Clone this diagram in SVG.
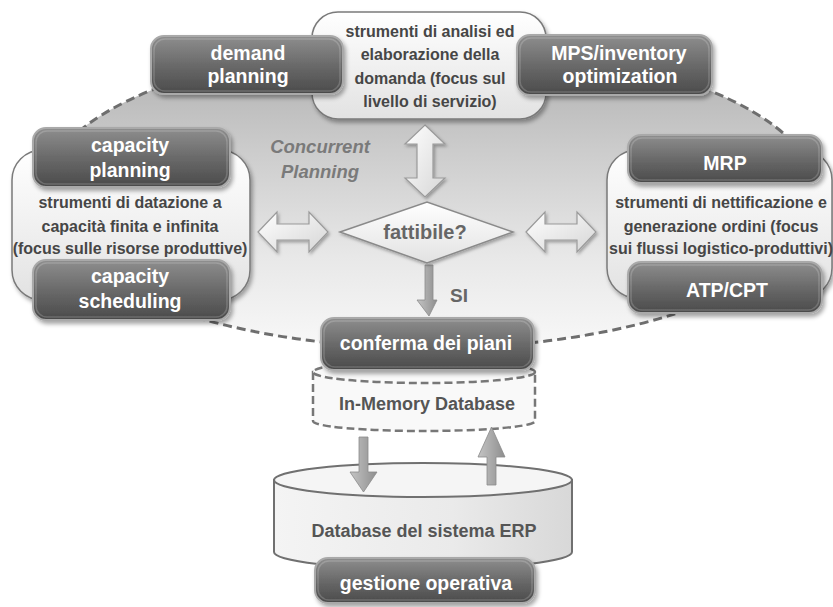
<svg xmlns="http://www.w3.org/2000/svg" xmlns:xlink="http://www.w3.org/1999/xlink" width="833" height="607" viewBox="0 0 833 607">
  <defs>
    <style>
      text { font-family: "Liberation Sans", Arial, sans-serif; font-weight: bold; text-anchor: middle; }
      .wt { fill: #ffffff; font-size: 19.5px; }
      .bt { fill: #464646; font-size: 16px; }
      .gt { fill: #666666; }
      .dk { fill: url(#gDark); stroke: #a9a9a9; stroke-width: 2; filter: url(#sh); }
      .dkin { fill: none; stroke: #ffffff; stroke-opacity: 0.18; stroke-width: 1.5; }
      .lt { fill: url(#gLight); stroke: #7a7a7a; stroke-width: 1.5; filter: url(#sh); }
      .arr { fill: url(#gArrow); stroke: #9a9a9a; stroke-width: 1.2; filter: url(#shs); }
      .flow { fill: url(#gFlow); stroke: #8a8a8a; stroke-width: 0.8; }
    </style>
    <linearGradient id="gArea" gradientUnits="userSpaceOnUse" x1="0" y1="44" x2="0" y2="348">
      <stop offset="0" stop-color="#adadad"/>
      <stop offset="0.35" stop-color="#cccccc"/>
      <stop offset="0.7" stop-color="#e8e8e8"/>
      <stop offset="1" stop-color="#f8f8f8"/>
    </linearGradient>
    <linearGradient id="gDark" x1="0" y1="0" x2="0" y2="1">
      <stop offset="0" stop-color="#8e8e8e"/>
      <stop offset="0.5" stop-color="#6a6a6a"/>
      <stop offset="1" stop-color="#4a4a4a"/>
    </linearGradient>
    <linearGradient id="gLight" x1="0" y1="0" x2="0" y2="1">
      <stop offset="0" stop-color="#ffffff"/>
      <stop offset="1" stop-color="#e2e2e2"/>
    </linearGradient>
    <linearGradient id="gArrow" x1="0" y1="0" x2="1" y2="1">
      <stop offset="0" stop-color="#ffffff"/>
      <stop offset="1" stop-color="#d6d6d6"/>
    </linearGradient>
    <linearGradient id="gFlow" x1="0" y1="0" x2="1" y2="0">
      <stop offset="0" stop-color="#c4c4c4"/>
      <stop offset="1" stop-color="#8e8e8e"/>
    </linearGradient>
    <linearGradient id="gCyl" x1="0" y1="0" x2="1" y2="0">
      <stop offset="0" stop-color="#f4f4f4"/>
      <stop offset="0.6" stop-color="#eaeaea"/>
      <stop offset="1" stop-color="#d8d8d8"/>
    </linearGradient>
    <filter id="sh" x="-10%" y="-20%" width="125%" height="150%">
      <feDropShadow dx="2" dy="3" stdDeviation="2" flood-color="#000000" flood-opacity="0.35"/>
    </filter>
    <filter id="shs" x="-20%" y="-20%" width="150%" height="150%">
      <feDropShadow dx="1.5" dy="2" stdDeviation="1.5" flood-color="#000000" flood-opacity="0.3"/>
    </filter>
    <!-- double arrows centred on the origin -->
    <path id="dblH" d="M-35,0 L-16,-20 L-16,-8 L16,-8 L16,-20 L35,0 L16,20 L16,8 L-16,8 L-16,20 Z"/>
    <path id="dblV" d="M0,-36 L20,-17 L8,-17 L8,17 L20,17 L0,36 L-20,17 L-8,17 L-8,-17 L-20,-17 Z"/>
  </defs>

  <rect width="833" height="607" fill="#ffffff"/>

  <!-- concurrent planning area -->
  <g id="planning-area">
    <ellipse cx="430" cy="196" rx="388" ry="152" fill="url(#gArea)" stroke="#6e6e6e" stroke-width="3" stroke-dasharray="9 5"/>
    <text x="320" y="153" font-style="italic" font-size="18.5" fill="#7a7a7a">Concurrent</text>
    <text x="320" y="178" font-style="italic" font-size="18.5" fill="#7a7a7a">Planning</text>
  </g>

  <!-- in-memory database (behind the confirmation box) -->
  <g id="in-memory-db">
    <path d="M313,372 L313,421 A111,10 0 0 0 535,421 L535,372 Z" fill="#f9f9f9" stroke="#777777" stroke-width="2.5" stroke-dasharray="8 4"/>
    <ellipse cx="424" cy="372" rx="111" ry="11" fill="#f9f9f9" stroke="#777777" stroke-width="2.5" stroke-dasharray="8 4"/>
    <text x="427" y="410" font-size="18" fill="#555555">In-Memory Database</text>
  </g>

  <!-- ERP database -->
  <g id="erp-db">
    <path d="M274,480 L274,552 A149,17 0 0 0 572,552 L572,480 Z" fill="url(#gCyl)" stroke="#707070" stroke-width="2"/>
    <ellipse cx="423" cy="480" rx="149" ry="17" fill="#f5f5f5" stroke="#707070" stroke-width="2"/>
    <text x="424" y="537" font-size="18" fill="#555555">Database del sistema ERP</text>
  </g>

  <!-- connectors -->
  <g id="connectors">
    <use href="#dblV" x="425" y="161" class="arr"/>
    <use href="#dblH" x="293" y="232" class="arr"/>
    <use href="#dblH" x="561" y="232" class="arr"/>
    <path class="flow" d="M425,265 L433,265 L433,300 L437,300 L429,316 L417,300 L425,300 Z"/>
    <text x="459" y="302" font-size="19" fill="#666666">SI</text>
    <path class="flow" d="M359,437 L368,437 L368,472 L377,472 L363.5,492 L350,472 L359,472 Z"/>
    <path class="flow" d="M487,485 L496,485 L496,457 L505,457 L491.5,427 L478,457 L487,457 Z"/>
  </g>

  <!-- capacity group -->
  <g id="capacity-tools">
    <rect x="12" y="150" width="238" height="150" rx="30" class="lt"/>
    <text x="130" y="208" class="bt">strumenti di datazione a</text>
    <text x="130" y="232" class="bt">capacità finita e infinita</text>
    <text x="130" y="254" class="bt">(focus sulle risorse produttive)</text>
  </g>
  <g id="capacity-planning">
    <rect x="33" y="128" width="197" height="59" rx="13" class="dk"/>
    <rect x="36" y="131" width="191" height="53" rx="11" class="dkin"/>
    <text x="130" y="152" class="wt">capacity</text>
    <text x="130" y="177" class="wt">planning</text>
  </g>
  <g id="capacity-scheduling">
    <rect x="33" y="260" width="197" height="60" rx="13" class="dk"/>
    <rect x="36" y="263" width="191" height="54" rx="11" class="dkin"/>
    <text x="130" y="283" class="wt">capacity</text>
    <text x="130" y="308" class="wt">scheduling</text>
  </g>

  <!-- MRP group -->
  <g id="mrp-tools">
    <rect x="607" y="150" width="225" height="148" rx="30" class="lt"/>
    <text x="721" y="208" class="bt">strumenti di nettificazione e</text>
    <text x="721" y="232" class="bt">generazione ordini (focus</text>
    <text x="721" y="254" class="bt">sui flussi logistico-produttivi)</text>
  </g>
  <g id="mrp">
    <rect x="628" y="135" width="194" height="48" rx="13" class="dk"/>
    <rect x="631" y="138" width="188" height="42" rx="11" class="dkin"/>
    <text x="725" y="170" class="wt">MRP</text>
  </g>
  <g id="atp-ctp">
    <rect x="628" y="262" width="194" height="51" rx="13" class="dk"/>
    <rect x="631" y="265" width="188" height="45" rx="11" class="dkin"/>
    <text x="727" y="297" class="wt">ATP/CPT</text>
  </g>

  <!-- demand analysis tools -->
  <g id="demand-tools">
    <rect x="312" y="12" width="234" height="107" rx="26" class="lt"/>
    <text x="430" y="37" class="bt">strumenti di analisi ed</text>
    <text x="430" y="60" class="bt">elaborazione della</text>
    <text x="430" y="84" class="bt">domanda (focus sul</text>
    <text x="430" y="107" class="bt">livello di servizio)</text>
  </g>
  <g id="demand-planning">
    <rect x="151" y="36" width="192" height="58" rx="13" class="dk"/>
    <rect x="154" y="39" width="186" height="52" rx="11" class="dkin"/>
    <text x="248" y="60" class="wt">demand</text>
    <text x="248" y="83" class="wt">planning</text>
  </g>
  <g id="mps-inventory">
    <rect x="517" y="35" width="195" height="60" rx="13" class="dk"/>
    <rect x="520" y="38" width="189" height="54" rx="11" class="dkin"/>
    <text x="619" y="60" class="wt">MPS/inventory</text>
    <text x="620" y="83" class="wt">optimization</text>
  </g>

  <!-- feasibility check -->
  <g id="feasibility">
    <path d="M340,232 L427,202 L513,232 L427,263 Z" fill="url(#gLight)" stroke="#8a8a8a" stroke-width="1.5" filter="url(#shs)"/>
    <text x="425" y="239" font-size="20" fill="#666666">fattibile?</text>
  </g>

  <!-- plan confirmation -->
  <g id="plan-confirmation">
    <rect x="321" y="318" width="213" height="52" rx="13" class="dk"/>
    <rect x="324" y="321" width="207" height="46" rx="11" class="dkin"/>
    <text x="426" y="350" class="wt" font-size="19">conferma dei piani</text>
  </g>

  <!-- operational management -->
  <g id="operations">
    <rect x="315" y="558" width="220" height="45" rx="13" class="dk"/>
    <rect x="318" y="561" width="214" height="39" rx="11" class="dkin"/>
    <text x="426" y="590" class="wt" font-size="18.5">gestione operativa</text>
  </g>
</svg>
